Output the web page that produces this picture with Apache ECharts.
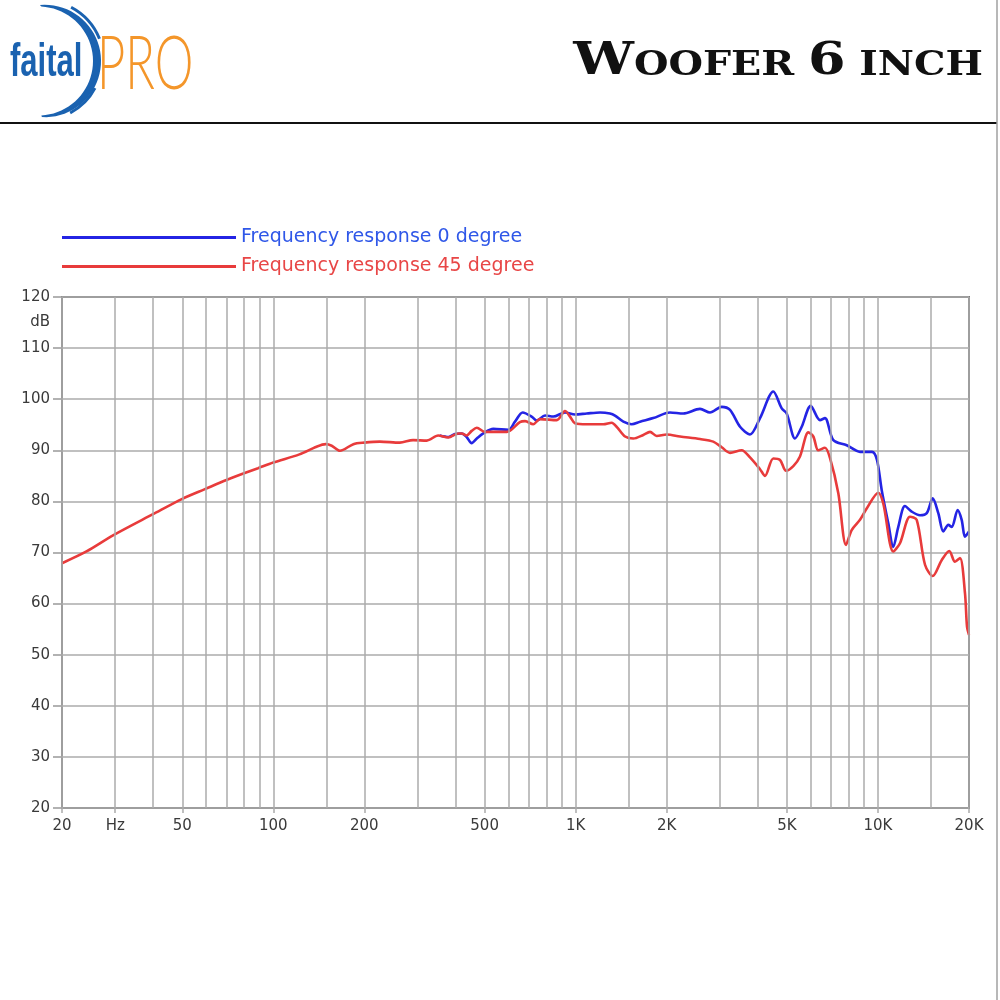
<!DOCTYPE html>
<html><head><meta charset="utf-8">
<script src="https://cdn.jsdelivr.net/npm/echarts@6/dist/echarts.min.js"></script>
<style>html,body{margin:0;padding:0;background:#fff}#c{width:1000px;height:1000px}</style>
</head><body><div id="c"></div>
<script>
// ---- data ----
const freq45 = [20,24.1,29.6,40,50,59.4,70,80,89,100,122,139,149,156,166,184,200,225,262,290,322,351,379,409,420,436,453,471,501,592,654,680,724,762,866,922,958,995,1088,1234,1316,1367,1457,1551,1674,1762,1854,2001,2214,2578,2852,3041,3240,3542,3773,4072,4230,4505,4743,4964,5247,5521,5883,6110,6346,6678,6937,7392,7840,8185,8720,9176,10020,10410,11237,11823,12762,13430,14307,15170,16240,17213,17975,18675,19400,19700,20000];
const db45 = [67.9,70.2,73.4,77.5,80.5,82.4,84.2,85.5,86.5,87.6,89.2,90.7,91.2,90.9,89.9,91.2,91.5,91.7,91.5,92.0,91.9,92.9,92.5,93.3,93.3,92.9,93.8,94.4,93.6,93.6,95.5,95.7,95.1,96.1,95.9,97.7,96.6,95.3,95.1,95.1,95.4,94.6,92.7,92.3,93.0,93.6,92.8,93.1,92.7,92.2,91.7,90.6,89.5,90.0,88.6,86.3,85.0,88.4,88.1,86.0,86.9,88.8,93.5,92.7,90.0,90.5,88.5,81.6,71.5,74.4,76.4,78.6,81.7,79.6,70.2,71.8,77.0,76.4,67.6,65.4,68.5,70.3,68.2,68.9,62.0,55.5,53.9];
const freq0 = [355,380,399,420,436,453,471,495,534,599,630,668,715,743,792,844,922,995,1088,1204,1299,1349,1438,1532,1633,1806,2051,2270,2578,2782,3041,3240,3497,3773,4072,4505,4804,4990,5315,5593,5991,6430,6678,7117,7881,8720,9556,9924,10289,10817,11237,11672,12283,12928,13772,14497,15170,15829,16447,17085,17532,18350,18915,19400,20000];
const db0 = [92.9,92.6,93.2,93.3,92.6,91.4,92.3,93.3,94.2,94.0,95.6,97.4,96.6,95.8,96.8,96.6,97.4,97.0,97.2,97.4,97.2,96.8,95.6,95.1,95.6,96.3,97.4,97.2,98.1,97.4,98.5,97.9,94.6,93.1,96.3,101.5,98.2,97.2,92.3,94.6,98.7,95.9,96.3,92.0,91.0,89.7,89.7,88.1,82.2,75.7,71.1,75.0,79.1,78.0,77.3,77.7,80.6,77.7,74.1,75.4,75.0,78.3,76.4,73.1,74.1];
const gridFreqs = [20,30,40,50,60,70,80,90,100,150,200,300,400,500,600,700,800,900,1000,1500,2000,3000,4000,5000,6000,7000,8000,9000,10000,15000,20000];
const xTickFreqs = [20,30,50,100,200,500,1000,2000,5000,10000,20000];
const xTickLabels = ['20','Hz','50','100','200','500','1K','2K','5K','10K','20K'];
const yTicks = [20,30,40,50,60,70,80,90,100,110,120];
const yUnit = 'dB';
const yUnitAt = 115;
const seriesNames = ['Frequency response 0 degree','Frequency response 45 degree'];

// ---- chart ----
const lg = f => Math.log10(f);
const xMin = lg(20), xMax = lg(20000);
const BLUE = '#2424e4', RED = '#e83b3b';
const GRIDC = '#ababab';

function crescent(c1x, c1y, r1, a1s, a1e, c2x, c2y, r2, a2s, a2e, n) {
  const pts = [];
  for (let i = 0; i <= n; i++) { const a = (a1s + (a1e - a1s) * i / n) * Math.PI / 180; pts.push([c1x + r1 * Math.cos(a), c1y + r1 * Math.sin(a)]); }
  for (let i = 0; i <= n; i++) { const a = (a2s + (a2e - a2s) * i / n) * Math.PI / 180; pts.push([c2x + r2 * Math.cos(a), c2y + r2 * Math.sin(a)]); }
  return pts;
}

const chart = echarts.init(document.getElementById('c'), null, {renderer: 'canvas'});
chart.setOption({
  animation: false,
  backgroundColor: '#fff',
  grid: { left: 62, right: 31, top: 297, bottom: 192, show: true, borderColor: '#7a7a7a', borderWidth: 2, backgroundColor: 'transparent' },
  legend: {
    orient: 'vertical', left: 62, top: 228, padding: 0, itemWidth: 174, itemHeight: 3, itemGap: 10, icon: 'rect', selectedMode: false,
    textStyle: { fontFamily: 'DejaVu Sans', fontSize: 19 },
    data: [
      { name: seriesNames[0], textStyle: { color: '#2f57e8' } },
      { name: seriesNames[1], textStyle: { color: '#e84646' } }
    ]
  },
  xAxis: {
    type: 'value', min: xMin, max: xMax,
    axisLine: { show: false },
    splitLine: { show: false },
    axisTick: { show: true, customValues: xTickFreqs.map(lg), length: 5, lineStyle: { color: GRIDC, width: 1.5 } },
    axisLabel: {
      customValues: xTickFreqs.map(lg), margin: 11,
      fontFamily: 'DejaVu Sans', fontSize: 15, color: '#3a3a3a',
      formatter: v => { const i = xTickFreqs.findIndex(f => Math.abs(lg(f) - v) < 1e-6); return i >= 0 ? xTickLabels[i] : ''; }
    }
  },
  yAxis: {
    type: 'value', min: 20, max: 120, interval: 10,
    axisLine: { show: false },
    splitLine: { show: true, lineStyle: { color: GRIDC, width: 1.5 } },
    axisTick: { show: true, customValues: yTicks, length: 9, lineStyle: { color: '#999', width: 1.5 } },
    axisLabel: {
      customValues: yTicks.concat([yUnitAt]), margin: 12,
      fontFamily: 'DejaVu Sans', fontSize: 15, color: '#3a3a3a',
      formatter: v => (Math.abs(v - yUnitAt) < 1e-6 ? yUnit : String(v))
    }
  },
  series: [
    {
      type: 'line', data: [], silent: true, z: 1,
      markLine: {
        silent: true, symbol: ['none', 'none'], label: { show: false },
        lineStyle: { color: GRIDC, width: 1.5, type: 'solid' },
        emphasis: { disabled: true },
        data: gridFreqs.map(f => [{ coord: [lg(f), 20] }, { coord: [lg(f), 120] }])
      }
    },
    {
      name: seriesNames[0], type: 'line', z: 3, smooth: 0.3, symbol: 'none', color: BLUE,
      lineStyle: { color: BLUE, width: 2.6 },
      data: freq0.map((f, i) => [lg(f), db0[i]])
    },
    {
      name: seriesNames[1], type: 'line', z: 4, smooth: 0.3, symbol: 'none', color: RED,
      lineStyle: { color: RED, width: 2.6 },
      data: freq45.map((f, i) => [lg(f), db45[i]])
    }
  ],
  graphic: [
    { type: 'line', shape: { x1: 0, y1: 123, x2: 997, y2: 123 }, style: { stroke: '#111', lineWidth: 2 } },
    { type: 'line', shape: { x1: 997, y1: 0, x2: 997, y2: 1000 }, style: { stroke: '#a0a0a0', lineWidth: 1.5 } },
    {
      type: 'text', x: 983, y: 85, scaleX: 1.2,
      style: {
        text: '{a|W}{b|OOFER }{a|6}{b| INCH}', align: 'right', verticalAlign: 'bottom',
        rich: {
          a: { fontSize: 45, fontFamily: 'DejaVu Serif', fontWeight: 'bold', fill: '#111', verticalAlign: 'bottom' },
          b: { fontSize: 33, fontFamily: 'DejaVu Serif', fontWeight: 'bold', fill: '#111', verticalAlign: 'bottom', padding: [0, 0, 2, 0] }
        }
      }
    },
    { type: 'polygon', shape: { points: crescent(44.8, 61, 56.2, -95, 93, 38.5, 61, 54.5, 87, -87, 40) }, style: { fill: '#1a62b0' } },
    { type: 'arc', shape: { cx: 42, cy: 62, r: 62, startAngle: -62 * Math.PI / 180, endAngle: -22 * Math.PI / 180 }, style: { stroke: '#1a62b0', lineWidth: 3, fill: null } },
    { type: 'arc', shape: { cx: 42, cy: 60, r: 60, startAngle: 28 * Math.PI / 180, endAngle: 62 * Math.PI / 180 }, style: { stroke: '#1a62b0', lineWidth: 3, fill: null } },
    { type: 'text', x: 10, y: 87, scaleX: 0.66, style: { text: 'faital', font: 'bold 47px "Liberation Sans"', fill: '#1a62b0', verticalAlign: 'bottom' } },
    { type: 'text', x: 97, y: 102, scaleX: 0.66, style: { text: 'PRO', font: '300 74px Lato', fill: '#f4962a', verticalAlign: 'bottom' } }
  ]
});
</script></body></html>
